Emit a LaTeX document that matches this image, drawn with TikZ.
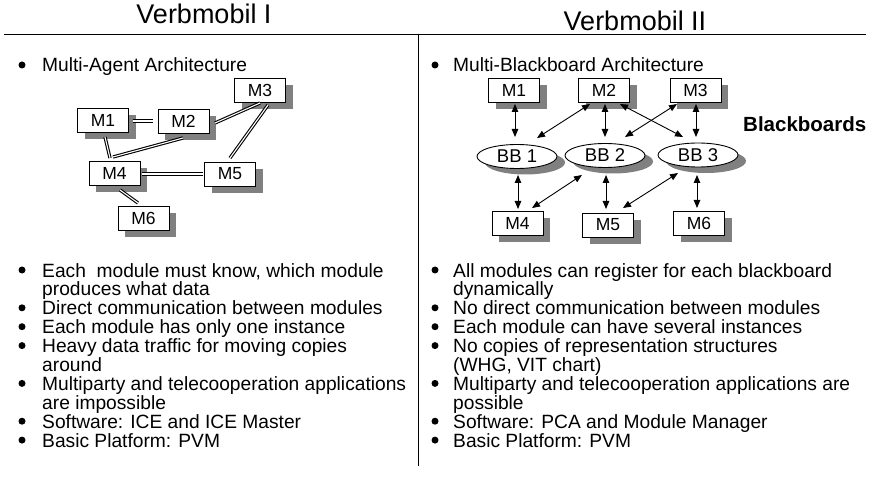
\documentclass[tikz,border=0pt]{standalone}
\usepackage{fontspec}
\setmainfont{Liberation Sans}
\usetikzlibrary{shapes.geometric,arrows.meta,shadows}
\begin{document}
\begin{tikzpicture}[x=1pt,y=-1pt,
  shd/.style={drop shadow={shadow xshift=7pt,shadow yshift=-7pt,fill=black!50,opacity=1}},
  mbox/.style={draw,fill=white,line width=0.9pt,minimum width=51pt,minimum height=24pt,inner sep=0pt,
    font=\fontsize{17.5}{17.5}\selectfont,shd},
  bb/.style={ellipse,draw,fill=white,line width=0.9pt,minimum width=80pt,minimum height=24pt,inner sep=0pt,
    font=\fontsize{18.5}{18.5}\selectfont,drop shadow={shadow xshift=8pt,shadow yshift=-6pt,fill=black!50,opacity=1}},
  dbl/.style={line width=1.1pt,double=white,double distance=1.1pt},
  arr/.style={line width=0.9pt,{Triangle[length=8pt,width=6.5pt]}-{Triangle[length=8pt,width=6.5pt]}},
  bul/.style={circle,fill=black,minimum size=7pt,inner sep=0pt},
  txt/.style={anchor=base west,inner sep=0pt,font=\fontsize{19.2}{19.2}\selectfont},
  ttl/.style={anchor=base,inner sep=0pt,font=\fontsize{27}{27}\selectfont}]
\useasboundingbox (0,0) rectangle (873,489);
\fill[white] (0,0) rectangle (873,489);

% titles and rules
\node[ttl] (t1) at (204,24) {Verbmobil I};
\node[ttl] (t2) at (635,31) {Verbmobil II};
\coordinate (hl) at (4,34.5);
\coordinate (hr) at (866,34.5);
\draw[line width=1pt] (hl) -- (hr);
\coordinate (vt) at (418,34.5);
\coordinate (vb) at (418,466);
\draw[line width=1pt] (vt) -- (vb);

% header bullets
\node[bul] (hb1) at (22,65) {};
\node[txt] (ht1) at (42,72) {Multi-Agent Architecture};
\node[bul] (hb2) at (435,65) {};
\node[txt] (ht2) at (453,72) {Multi-Blackboard Architecture};

% left diagram
\node[mbox] (a1) at (103,120) {M1};
\node[mbox] (a2) at (183.5,121) {M2};
\node[mbox] (a3) at (260,90) {M3};
\node[mbox] (a4) at (114.5,173.5) {M4};
\node[mbox] (a5) at (230,174) {M5};
\node[mbox] (a6) at (143.5,218.5) {M6};
\draw[dbl] ([shift={(30,1)}]a1.center) -- ([shift={(-30.5,0)}]a2.center);
\draw[dbl] ([shift={(31.5,2)}]a2.center) -- ([shift={(0,13)}]a3.center);
\draw[dbl] ([shift={(2,17)}]a1.center) -- ([shift={(-4.5,-15.5)}]a4.center);
\draw[dbl] ([shift={(-0.5,17)}]a2.center) -- ([shift={(-1.5,-16.5)}]a4.center);
\draw[dbl] ([shift={(8,15)}]a3.center) -- ([shift={(0,-16)}]a5.center);
\draw[dbl] ([shift={(27.5,0.5)}]a4.center) -- ([shift={(-27,0)}]a5.center);
\draw[dbl] ([shift={(5.5,16.5)}]a4.center) -- ([shift={(-5.5,-15.5)}]a6.center);

% right diagram
\node[mbox] (r1) at (514,90.5) {M1};
\node[mbox] (r2) at (604,90.5) {M2};
\node[mbox] (r3) at (695.5,90.5) {M3};
\node[bb] (b1) at (517,156.5) {BB 1};
\node[bb] (b2) at (605,155.5) {BB 2};
\node[bb] (b3) at (698,155) {BB 3};
\node[mbox] (r4) at (517.5,223.5) {M4};
\node[mbox] (r5) at (608,225) {M5};
\node[mbox] (r6) at (699,223.5) {M6};
\node[anchor=base west,inner sep=0pt,font=\fontsize{20.5}{20.5}\selectfont\bfseries] (lbl) at (743,132) {Blackboards};

\draw[arr] ([shift={(1,13.5)}]r1.center) -- ([shift={(-2,-19.5)}]b1.center);
\draw[arr] ([shift={(-14,13.5)}]r2.center) -- ([shift={(20,-18.5)}]b1.center);
\draw[arr] ([shift={(1,13.5)}]r2.center) -- ([shift={(0,-18.5)}]b2.center);
\draw[arr] ([shift={(16,13.5)}]r2.center) -- ([shift={(-15,-18)}]b3.center);
\draw[arr] ([shift={(-18.5,13.5)}]r3.center) -- ([shift={(20,-18.5)}]b2.center);
\draw[arr] ([shift={(0.5,13.5)}]r3.center) -- ([shift={(-2,-18)}]b3.center);
\draw[arr] ([shift={(1,18.5)}]b1.center) -- ([shift={(0.5,-14.5)}]r4.center);
\draw[arr] ([shift={(-23,19.5)}]b2.center) -- ([shift={(14.5,-15.5)}]r4.center);
\draw[arr] ([shift={(1,19.5)}]b2.center) -- ([shift={(-2,-16)}]r5.center);
\draw[arr] ([shift={(-20,18)}]b3.center) -- ([shift={(15,-17)}]r5.center);
\draw[arr] ([shift={(-1,20)}]b3.center) -- ([shift={(-2,-15.5)}]r6.center);

% left bullet list
\foreach \k/\b/\t in {0/1/{Each\ \ module must know, which module},
                      1/0/{produces what data},
                      2/1/{Direct communication between modules},
                      3/1/{Each module has only one instance},
                      4/1/{Heavy data traffic for moving copies},
                      5/0/{around},
                      6/1/{Multiparty and telecooperation applications},
                      7/0/{are impossible},
                      8/1/{Software: ICE and ICE Master},
                      9/1/{Basic Platform: PVM}}{
  \node[txt] (lt\k) at (42,277+18.9*\k) {\t};
  \ifnum\b=1 \node[bul] (lb\k) at (22,270+18.9*\k) {};\fi
}
% right bullet list
\foreach \k/\b/\t in {0/1/{All modules can register for each blackboard},
                      1/0/{dynamically},
                      2/1/{No direct communication between modules},
                      3/1/{Each module can have several instances},
                      4/1/{No copies of representation structures},
                      5/0/{(WHG, VIT chart)},
                      6/1/{Multiparty and telecooperation applications are},
                      7/0/{possible},
                      8/1/{Software: PCA and Module Manager},
                      9/1/{Basic Platform: PVM}}{
  \node[txt] (rt\k) at (453,277+18.9*\k) {\t};
  \ifnum\b=1 \node[bul] (rb\k) at (435,270+18.9*\k) {};\fi
}
\end{tikzpicture}
\end{document}
